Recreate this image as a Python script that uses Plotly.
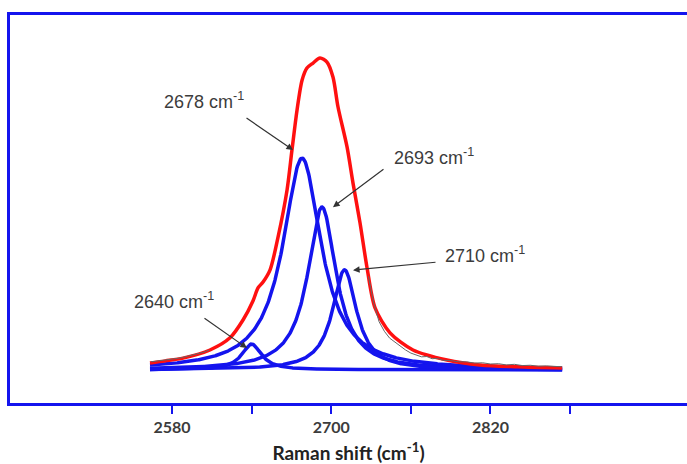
import numpy as np
import plotly.graph_objects as go

# Lorentzian components of the 2D band: centre (cm-1), height (norm.), half width (cm-1)
peak_centers = [2640, 2678, 2693, 2710]
peak_heights = [0.083, 0.679, 0.522, 0.321]
peak_hwhm = [9, 17.5, 13, 11]
peak_labels = ["2640 cm<sup>-1</sup>", "2678 cm<sup>-1</sup>",
               "2693 cm<sup>-1</sup>", "2710 cm<sup>-1</sup>"]

# Cumulative fit envelope (red)
fit_shift = [2563.4, 2575.0, 2588.3, 2608.6, 2623.7, 2633.5, 2641.0, 2644.8,
             2648.6, 2653.9, 2659.9, 2666.7, 2670.4, 2674.2, 2678.0, 2681.7,
             2686.3, 2691.5, 2696.8, 2701.3, 2705.1, 2711.9, 2716.4, 2721.7,
             2727.0, 2733.0, 2744.3, 2761.6, 2787.2, 2812.1, 2840.0, 2874.0]
fit_intensity = [0.022, 0.029, 0.038, 0.064, 0.103, 0.160, 0.221, 0.263,
                 0.282, 0.321, 0.426, 0.577, 0.705, 0.833, 0.929, 0.968,
                 0.984, 1.000, 0.987, 0.939, 0.843, 0.715, 0.599, 0.471,
                 0.327, 0.199, 0.119, 0.064, 0.032, 0.016, 0.010, 0.006]

# Measured spectrum in the wings (black)
raw_shift = [2564, 2568, 2572, 2576, 2580, 2584, 2588, 2592, 2596, 2600, 2604, 2608,
             None,
             2728, 2732, 2736, 2740, 2744, 2748, 2752, 2756, 2760, 2764, 2768,
             2772, 2776, 2780, 2784, 2790, 2796, 2802, 2808, 2814, 2820, 2826,
             2832, 2838, 2844, 2850, 2856, 2862, 2868, 2874]
raw_intensity = [0.026, 0.028, 0.029, 0.032, 0.033, 0.037, 0.040, 0.044, 0.047, 0.053, 0.057, 0.064,
                 None,
                 0.300, 0.215, 0.155, 0.124, 0.102, 0.089, 0.074, 0.064, 0.054, 0.049, 0.042,
                 0.043, 0.036, 0.037, 0.031, 0.030, 0.026, 0.026, 0.022, 0.023, 0.019, 0.020,
                 0.016, 0.018, 0.014, 0.015, 0.012, 0.013, 0.011, 0.010]

# Axis ticks
tick_values = [2580, 2640, 2700, 2760, 2820, 2880]
tick_labels = ["2580", "", "2700", "", "2820", ""]

BLUE = "#1414ee"
RED = "#ff1010"
TEXT = "#3c3c3c"

grid = np.linspace(2563.4, 2874.0, 700)

fig = go.Figure()

for c, h, g in zip(peak_centers, peak_heights, peak_hwhm):
    fig.add_trace(go.Scatter(
        x=grid, y=h * g**2 / ((grid - c) ** 2 + g**2),
        mode="lines", line=dict(color=BLUE, width=3.5),
        showlegend=False, hoverinfo="skip"))

fig.add_trace(go.Scatter(
    x=fit_shift, y=fit_intensity, mode="lines",
    line=dict(color=RED, width=3.5, shape="spline", smoothing=0.8),
    showlegend=False))

fig.add_trace(go.Scatter(
    x=raw_shift, y=raw_intensity, mode="lines",
    line=dict(color="#666666", width=1), connectgaps=False,
    showlegend=False))

# Peak labels and arrows (arrow heads in data units, tails as pixel offsets)
label_pos = [(2549.9, 0.224), (2572.5, 0.865), (2745.8, 0.683), (2784.2, 0.369)]
arrow_heads = [(2636.5, 0.070), (2671.2, 0.705), (2701.3, 0.522), (2716.4, 0.320)]
arrow_tails = [(-44, -31), (-48, -33), (52, -39), (84, -8)]

for txt, (lx, ly), (hx, hy), (ax, ay) in zip(peak_labels, label_pos, arrow_heads, arrow_tails):
    fig.add_annotation(x=lx, y=ly, text=txt, showarrow=False,
                       xanchor="left", yanchor="middle",
                       font=dict(family="Liberation Sans, Arial", size=18, color=TEXT))
    fig.add_annotation(x=hx, y=hy, text="", showarrow=True, ax=ax, ay=ay,
                       arrowhead=2, arrowsize=1.1, arrowwidth=1.2,
                       arrowcolor="#333333")

fig.update_layout(
    width=687, height=464,
    margin=dict(l=10, r=0, t=15, b=61),
    paper_bgcolor="white", plot_bgcolor="white",
    xaxis=dict(
        range=[2457.9, 2968.1], showgrid=False, zeroline=False,
        showline=True, linecolor=BLUE, linewidth=3, mirror=True,
        tickvals=tick_values, ticktext=tick_labels,
        ticks="outside", ticklen=8, tickwidth=2, tickcolor=BLUE,
        ticklabelstandoff=0,
        tickfont=dict(family="Lato", size=16, color=TEXT, weight="bold"),
        title=dict(text="Raman shift (cm<sup>-1</sup>)",
                   font=dict(family="Lato", size=19, color="#222222", weight="bold"),
                   standoff=12),
    ),
    yaxis=dict(
        range=[-0.106, 1.138], showgrid=False, zeroline=False,
        showline=True, linecolor=BLUE, linewidth=3, mirror=False,
        showticklabels=False, ticks="",
    ),
)

fig.write_html("out.html")
